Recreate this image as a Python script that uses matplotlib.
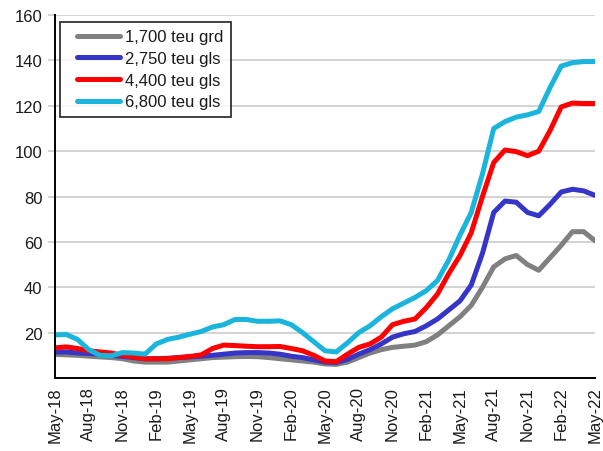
import matplotlib
matplotlib.use("Agg")
import matplotlib.pyplot as plt
from matplotlib.legend_handler import HandlerLine2D

plt.rcParams['font.family'] = ['Liberation Sans', 'DejaVu Sans']

tick_labels = ["May-18", "Aug-18", "Nov-18", "Feb-19", "May-19", "Aug-19", "Nov-19",
               "Feb-20", "May-20", "Aug-20", "Nov-20", "Feb-21", "May-21", "Aug-21",
               "Nov-21", "Feb-22", "May-22"]

# monthly values May-18 .. May-22 (49 months)
teu_1700_grd = [10.4, 10.2, 10.0, 9.6, 9.3, 9.0, 8.5, 7.5, 7.0, 7.0, 7.0, 7.5, 8.0, 8.5,
                9.0, 9.2, 9.4, 9.5, 9.4, 9.0, 8.5, 8.0, 7.5, 7.0, 6.2, 6.0, 7.0, 9.0,
                11.0, 12.5, 13.5, 14.0, 14.5, 16.0, 19.0, 23.0, 27.0, 32.0, 40.0, 49.0,
                52.5, 54.0, 50.0, 47.5, 53.0, 58.5, 64.5, 64.5, 60.5]
teu_2750_gls = [11.4, 11.5, 11.0, 10.8, 10.5, 10.0, 9.5, 9.0, 8.5, 8.5, 8.7, 9.0, 9.3, 9.6,
                10.0, 10.5, 11.0, 11.2, 11.2, 11.0, 10.5, 9.6, 9.0, 8.0, 7.0, 6.8, 8.2,
                10.5, 12.5, 15.0, 18.0, 19.5, 20.5, 23.0, 26.0, 30.0, 34.0, 41.0, 55.0,
                73.0, 78.0, 77.5, 73.0, 71.5, 76.5, 82.0, 83.2, 82.5, 80.5]
teu_4400_gls = [13.3, 13.7, 13.0, 12.0, 11.5, 11.0, 10.0, 9.2, 8.5, 8.5, 8.5, 9.0, 9.5,
                10.2, 13.0, 14.5, 14.3, 14.0, 13.8, 13.8, 13.9, 13.0, 12.0, 10.0, 7.5,
                7.2, 10.5, 13.5, 15.0, 18.0, 23.5, 25.0, 26.0, 31.0, 37.0, 46.0, 54.0,
                64.0, 80.0, 95.0, 100.5, 99.8, 98.0, 100.0, 109.0, 119.5, 121.2, 121.0,
                121.0]
teu_6800_gls = [19.0, 19.2, 17.0, 12.5, 10.0, 9.8, 11.2, 11.0, 10.5, 15.0, 17.0, 18.0,
                19.3, 20.5, 22.5, 23.5, 25.8, 25.8, 25.0, 25.0, 25.2, 23.5, 20.0, 16.0,
                12.0, 11.5, 15.5, 20.0, 23.0, 27.0, 30.5, 33.0, 35.5, 38.5, 43.0, 52.0,
                63.0, 73.0, 90.0, 110.0, 113.0, 115.0, 116.0, 117.5, 128.0, 137.5, 139.0,
                139.5, 139.5]

series_labels = ["1,700 teu grd", "2,750 teu gls", "4,400 teu gls", "6,800 teu gls"]
series_colors = ["#808080", "#3535C8", "#FF0000", "#1AB4DC"]
series_values = [teu_1700_grd, teu_2750_gls, teu_4400_gls, teu_6800_gls]
y_ticks = [20, 40, 60, 80, 100, 120, 140, 160]

fig = plt.figure(figsize=(6.03, 4.52), dpi=100)
ax = fig.add_axes([0.0912, 0.1615, 0.8955, 0.803])

months = list(range(len(teu_1700_grd)))
for vals, lab, col in zip(series_values, series_labels, series_colors):
    ax.plot(months, vals, color=col, lw=3.6, label=lab,
            solid_capstyle='round', solid_joinstyle='round', zorder=3)

ax.set_xlim(0, 48)
ax.set_ylim(0, 160)
ax.set_yticks(y_ticks)
ax.set_xticks(range(0, 49, 3))
ax.set_xticklabels(tick_labels, rotation=90)
ax.yaxis.grid(True, color="#C8C8C8", lw=1.1)
ax.set_axisbelow(True)
for s in ["top", "right"]:
    ax.spines[s].set_visible(False)
for s in ["left", "bottom"]:
    ax.spines[s].set_linewidth(1.4)
    ax.spines[s].set_color("black")
    ax.spines[s].set_zorder(4)
ax.tick_params(axis='y', length=5, color="#C8C8C8", width=1.1, labelsize=12,
               labelcolor="#1a1a1a", pad=4)
ax.tick_params(axis='x', length=0, labelsize=12, labelcolor="#1a1a1a", pad=6)

leg = ax.legend(loc='upper left', bbox_to_anchor=(0.009, 0.981), borderaxespad=0,
                fontsize=12, frameon=True, fancybox=False, borderpad=0.45,
                handlelength=3.15, handletextpad=0.3, labelspacing=0.4,
                handler_map={plt.Line2D: HandlerLine2D(xpad=0.6)})
leg.get_frame().set_edgecolor("black")
leg.get_frame().set_linewidth(1.3)
for t in leg.get_texts():
    t.set_color("#1a1a1a")

fig.savefig("out.png", dpi=100)
